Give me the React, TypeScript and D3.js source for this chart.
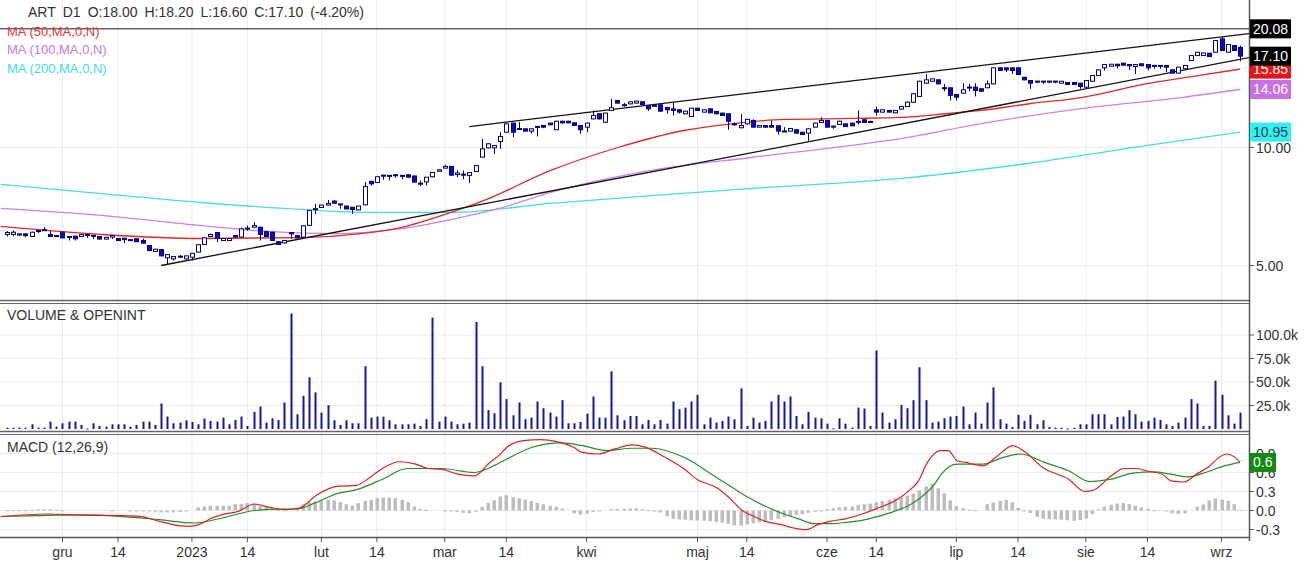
import React from "react";
import * as d3 from "d3";

// daily candles, oldest first: [open, high, low, close]
const candles: number[][] = [
  [6.00, 6.12, 5.93, 6.07], [6.00, 6.14, 5.94, 6.08], [5.98, 6.04, 5.95, 6.02], [6.02, 6.04, 5.90, 5.96],
  [5.93, 6.10, 5.92, 6.08], [6.14, 6.15, 6.05, 6.13], [6.17, 6.26, 6.14, 6.16], [6.00, 6.12, 5.91, 5.93],
  [5.96, 5.97, 5.94, 5.95], [6.08, 6.09, 5.87, 5.88], [5.93, 5.94, 5.79, 5.92], [5.94, 5.95, 5.79, 5.85],
  [5.93, 6.01, 5.90, 6.00], [6.00, 6.01, 5.88, 5.99], [5.97, 5.98, 5.84, 5.96], [5.93, 5.94, 5.82, 5.84],
  [5.84, 5.92, 5.83, 5.90], [5.91, 5.98, 5.84, 5.96], [5.86, 5.88, 5.77, 5.79], [5.87, 5.88, 5.70, 5.82],
  [5.82, 5.83, 5.80, 5.81], [5.85, 5.86, 5.74, 5.75], [5.79, 5.86, 5.69, 5.70], [5.62, 5.63, 5.44, 5.46],
  [5.43, 5.52, 5.42, 5.50], [5.49, 5.50, 5.28, 5.29], [5.23, 5.34, 5.03, 5.33], [5.20, 5.28, 5.15, 5.27],
  [5.27, 5.32, 5.24, 5.28], [5.20, 5.30, 5.18, 5.29], [5.25, 5.38, 5.15, 5.37], [5.41, 5.66, 5.40, 5.65],
  [5.66, 5.90, 5.64, 5.88], [5.93, 6.03, 5.90, 6.00], [6.07, 6.08, 5.73, 5.86], [5.79, 5.87, 5.77, 5.86],
  [5.79, 5.88, 5.78, 5.86], [5.96, 5.98, 5.89, 5.91], [5.91, 6.25, 5.90, 6.20], [6.22, 6.32, 6.13, 6.23],
  [6.26, 6.45, 6.24, 6.32], [6.26, 6.28, 5.79, 6.00], [6.10, 6.12, 5.91, 5.93], [6.08, 6.09, 5.77, 5.79],
  [5.75, 5.76, 5.64, 5.66], [5.71, 5.80, 5.69, 5.79], [6.07, 6.08, 5.85, 6.02], [5.96, 5.97, 5.87, 5.88],
  [5.91, 6.33, 5.89, 6.31], [6.33, 6.93, 6.31, 6.91], [6.97, 7.18, 6.76, 6.98], [7.03, 7.15, 7.01, 7.13],
  [7.13, 7.35, 7.11, 7.20], [7.30, 7.35, 7.19, 7.21], [7.18, 7.19, 6.98, 7.14], [7.09, 7.10, 6.96, 6.97],
  [7.04, 7.05, 6.77, 6.95], [6.93, 7.10, 6.92, 7.09], [7.14, 8.16, 7.12, 7.95], [8.20, 8.22, 7.99, 8.08],
  [8.14, 8.45, 8.12, 8.42], [8.50, 8.52, 8.28, 8.47], [8.49, 8.50, 8.24, 8.47], [8.52, 8.53, 8.37, 8.51],
  [8.49, 8.50, 8.30, 8.48], [8.52, 8.53, 8.38, 8.40], [8.46, 8.47, 8.14, 8.16], [8.11, 8.24, 7.97, 8.10],
  [8.17, 8.41, 7.99, 8.40], [8.42, 8.66, 8.40, 8.64], [8.70, 8.79, 8.68, 8.77], [8.86, 9.04, 8.84, 8.95],
  [8.95, 8.97, 8.48, 8.50], [8.53, 8.74, 8.40, 8.61], [8.55, 8.74, 8.30, 8.54], [8.49, 8.65, 8.11, 8.63],
  [8.69, 9.02, 8.67, 8.99], [9.45, 10.52, 9.43, 9.92], [9.98, 10.25, 9.95, 10.22], [9.98, 10.14, 9.63, 10.12],
  [10.36, 10.94, 9.92, 10.67], [10.94, 11.52, 10.90, 11.49], [11.54, 11.56, 10.63, 10.94], [11.16, 11.62, 11.10, 11.18],
  [11.16, 11.18, 10.99, 11.01], [11.01, 11.18, 10.84, 11.16], [11.32, 11.33, 10.67, 11.30], [11.38, 11.40, 11.20, 11.27],
  [11.54, 11.56, 11.38, 11.43], [11.10, 11.70, 11.08, 11.67], [11.67, 11.69, 11.50, 11.56], [11.67, 11.69, 11.54, 11.56],
  [11.56, 11.58, 11.35, 11.38], [11.38, 11.40, 10.84, 11.10], [11.27, 11.56, 10.94, 11.54], [11.83, 12.43, 11.80, 12.07],
  [12.19, 12.22, 11.80, 11.83], [11.60, 12.26, 11.58, 12.24], [12.43, 13.31, 12.40, 12.63], [13.18, 13.20, 12.95, 12.98],
  [12.85, 13.00, 12.70, 12.86], [12.92, 13.10, 12.90, 13.08], [12.98, 13.15, 12.95, 13.13], [13.08, 13.10, 12.85, 12.87],
  [12.80, 12.82, 12.40, 12.55], [12.81, 12.83, 12.78, 12.80], [12.85, 12.87, 12.35, 12.38], [12.65, 12.67, 12.19, 12.48],
  [12.55, 13.05, 12.07, 12.43], [12.48, 12.50, 12.20, 12.31], [12.19, 12.40, 12.17, 12.38], [12.00, 12.62, 11.98, 12.60],
  [12.60, 12.62, 12.40, 12.43], [12.31, 12.50, 12.28, 12.48], [12.55, 12.57, 12.24, 12.26], [12.36, 12.38, 12.17, 12.19],
  [12.24, 12.26, 12.05, 12.07], [12.19, 12.21, 11.10, 11.67], [11.49, 11.58, 11.38, 11.48], [11.23, 12.19, 11.20, 11.38],
  [11.49, 11.83, 11.45, 11.80], [11.72, 11.80, 11.25, 11.27], [11.27, 11.40, 11.25, 11.38], [11.38, 11.40, 11.25, 11.27],
  [11.38, 11.72, 11.25, 11.27], [11.36, 11.38, 10.79, 11.01], [11.01, 11.27, 10.99, 11.02], [11.01, 11.20, 10.99, 11.18],
  [11.10, 11.12, 10.86, 10.88], [10.94, 10.96, 10.77, 10.79], [10.88, 11.18, 10.32, 11.16], [11.27, 11.56, 11.25, 11.54],
  [11.58, 11.95, 11.56, 11.72], [11.72, 11.75, 11.25, 11.27], [11.34, 11.36, 11.16, 11.33], [11.45, 11.70, 11.43, 11.67],
  [11.49, 11.51, 11.29, 11.31], [11.54, 11.56, 11.34, 11.36], [11.65, 12.43, 11.45, 11.66], [11.77, 11.79, 11.56, 11.58],
  [11.65, 11.72, 11.58, 11.64], [12.48, 12.72, 12.07, 12.31], [12.31, 12.50, 12.28, 12.48], [12.43, 12.45, 12.29, 12.31],
  [12.26, 12.45, 12.24, 12.43], [12.53, 12.75, 12.50, 12.72], [12.72, 13.08, 12.70, 13.05], [13.05, 13.74, 13.02, 13.71],
  [13.50, 14.80, 13.47, 14.76], [14.59, 15.41, 14.55, 14.88], [14.76, 15.00, 14.73, 14.97], [14.88, 14.90, 14.50, 14.53],
  [14.21, 14.53, 13.92, 14.20], [14.20, 14.22, 13.18, 13.58], [13.65, 13.67, 13.18, 13.44], [13.76, 14.59, 13.73, 14.03],
  [14.25, 14.53, 13.92, 14.26], [14.25, 14.59, 13.50, 13.98], [14.12, 14.14, 13.90, 13.92], [14.20, 14.82, 14.18, 14.53],
  [14.53, 16.00, 14.50, 15.97], [15.97, 16.00, 15.70, 15.72], [15.97, 15.99, 15.57, 15.78], [15.97, 15.99, 15.41, 15.72],
  [15.97, 15.99, 15.33, 15.35], [15.11, 15.13, 14.85, 14.88], [14.82, 14.84, 14.12, 14.59], [14.77, 14.78, 14.59, 14.76],
  [14.77, 14.78, 14.53, 14.76], [14.77, 14.78, 14.59, 14.76], [14.77, 14.78, 14.59, 14.76], [14.59, 14.78, 14.57, 14.76],
  [14.65, 14.67, 14.46, 14.48], [14.65, 14.67, 14.46, 14.48], [14.59, 14.61, 14.12, 14.31], [14.25, 14.84, 14.22, 14.82],
  [14.76, 15.28, 14.74, 15.26], [15.26, 15.80, 15.24, 15.78], [15.97, 16.30, 15.72, 16.28], [16.12, 16.33, 16.10, 16.31],
  [16.31, 16.33, 15.90, 16.16], [16.41, 16.43, 16.20, 16.22], [16.28, 16.30, 15.78, 16.16], [16.09, 16.30, 15.41, 16.28],
  [16.35, 16.37, 16.14, 16.16], [16.28, 16.30, 15.72, 15.97], [16.20, 16.22, 15.88, 16.18], [16.20, 16.22, 15.88, 16.18],
  [16.19, 16.21, 15.57, 16.03], [15.78, 15.80, 15.46, 15.48], [15.48, 16.05, 15.46, 16.03], [15.88, 16.21, 15.86, 16.19],
  [16.67, 17.18, 16.65, 17.16], [17.16, 17.52, 17.14, 17.50], [17.16, 17.45, 17.14, 17.43], [17.40, 17.42, 17.04, 17.06],
  [17.50, 18.77, 17.48, 18.75], [18.93, 19.12, 17.66, 17.68], [17.50, 18.33, 17.48, 18.31], [18.20, 18.22, 17.66, 17.68],
  [18.00, 18.20, 16.60, 17.10],
];

// volume, thousands of shares
const volumes: number[] = [
  1.4, 1.4, 1.4, 1.4, 5.0, 1.4, 1.4, 7.9, 2.5, 6.1, 7.9, 7.9, 4.3, 0.5, 6.1, 3.2, 2.5, 5.0, 5.0, 5.0,
  2.5, 4.3, 7.9, 7.9, 4.3, 27.1, 13.2, 6.1, 6.8, 9.3, 7.5, 5.0, 11.1, 8.6, 7.9, 12.1, 5.0, 9.6, 13.2, 3.2,
  18.2, 23.9, 6.8, 11.4, 9.6, 28.2, 122.8, 15.7, 35.3, 55.0, 38.9, 17.5, 25.3, 9.3, 4.3, 9.3, 6.1, 6.1, 66.8, 12.1,
  13.2, 13.2, 9.3, 5.0, 5.0, 5.0, 5.7, 3.2, 10.4, 118.5, 7.9, 13.2, 7.9, 5.0, 5.7, 6.8, 113.9, 66.8, 20.0, 16.8,
  49.6, 31.8, 14.6, 28.2, 10.4, 12.1, 29.3, 22.1, 17.5, 13.2, 30.7, 6.1, 6.1, 7.5, 16.4, 34.6, 12.1, 12.1, 61.4, 14.6,
  9.3, 13.9, 13.9, 5.0, 9.6, 5.0, 9.6, 5.7, 29.3, 21.1, 22.8, 29.3, 36.4, 5.0, 12.1, 6.8, 8.6, 13.2, 10.4, 43.2,
  3.2, 12.1, 6.8, 8.6, 29.3, 36.4, 29.3, 34.6, 13.9, 5.0, 18.2, 12.1, 11.4, 5.7, 0.7, 11.4, 5.7, 1.4, 22.8, 21.8,
  3.2, 83.5, 17.5, 6.8, 10.4, 25.7, 22.1, 30.7, 65.7, 30.7, 6.8, 7.9, 11.4, 13.2, 13.9, 23.9, 5.0, 17.5, 5.7, 28.2,
  44.3, 10.4, 5.7, 2.1, 15.0, 8.6, 15.0, 5.0, 9.3, 2.1, 1.4, 1.4, 0.5, 1.4, 5.0, 5.0, 15.7, 15.7, 15.7, 5.0,
  12.9, 13.2, 20.0, 15.7, 7.9, 8.6, 12.1, 9.6, 5.0, 3.2, 6.8, 12.1, 31.8, 27.1, 3.2, 3.2, 51.4, 36.4, 14.6, 5.7,
  17.5,
];

// moving averages sampled along the chart: [day index, price]
const ma50: number[][] = [
  [-1, 6.29], [15.3, 6.0], [31.5, 5.86], [47.7, 5.89], [57.4, 6.03], [63.9, 6.25], [72, 6.83], [77.4, 7.33],
  [88.2, 8.74], [99.1, 10.0], [109.8, 11.05], [117.9, 11.51], [126, 11.79], [136.9, 11.86], [145, 11.93],
  [152.6, 12.21], [158, 12.43], [166.1, 12.95], [174.2, 13.41], [185, 14.56], [193.2, 15.26], [200, 15.85],
];
const ma100: number[][] = [
  [-1, 6.99], [15.3, 6.71], [31.5, 6.32], [42.3, 6.11], [53, 6.03], [63.9, 6.21], [72, 6.55], [80, 7.0],
  [88.2, 7.68], [104.5, 8.74], [120.7, 9.43], [136.9, 10.12], [145, 10.54], [158, 11.51], [174.2, 12.57],
  [190.4, 13.41], [200, 14.06],
];
const ma200: number[][] = [
  [-1, 8.05], [15.3, 7.63], [31.5, 7.24], [47.7, 6.95], [58.6, 6.83], [72, 6.83], [88.2, 7.2], [104.5, 7.54],
  [120.7, 7.86], [145, 8.34], [168.9, 9.26], [185, 10.12], [200, 10.95],
];

// hand-drawn lines: [day index, price] end points
const supportLine: number[][] = [[25, 5.0], [201.6, 16.97]];
const resistanceLine: number[][] = [[75, 11.31], [201.6, 19.54]];
const levelLine = 20.08;

// MACD (12,26,9) sampled: [day index, value]
const macdLine: number[][] = [
  [-1, -0.095], [6.7, -0.055], [11.9, -0.072], [18, -0.08], [21.5, -0.092], [24.7, -0.171], [27.9, -0.24],
  [29.5, -0.25], [31.1, -0.224], [33, -0.13], [34.9, -0.066], [37.5, -0.013], [40.1, 0.103], [42.6, 0.05],
  [45.2, 0.013], [47.4, 0.035], [50.3, 0.25], [53.5, 0.382], [56.7, 0.398], [58.7, 0.51], [60.9, 0.663],
  [63.6, 0.77], [66.3, 0.733], [68.4, 0.663], [70.4, 0.653], [73.1, 0.573], [75.8, 0.547], [78.4, 0.765],
  [79.8, 0.871], [81.1, 1.0], [83.8, 1.104], [86.5, 1.12], [89.2, 1.088], [91.9, 0.998], [93.3, 0.918],
  [95.9, 0.892], [98.6, 0.972], [101.3, 1.036], [103.5, 1.0], [106.3, 0.866], [109.8, 0.66], [112, 0.487],
  [115.2, 0.355], [117.2, 0.197], [119.1, 0.013], [121.1, -0.092], [123, -0.171], [125.6, -0.224],
  [127.6, -0.276], [129.6, -0.303], [131.5, -0.224], [133.5, -0.171], [136.1, -0.129], [138.7, -0.055],
  [141.3, 0.04], [143.9, 0.145], [146.5, 0.329], [147.8, 0.461], [149.3, 0.759], [151.4, 0.945], [152.7, 0.945],
  [154.1, 0.786], [155.5, 0.759], [158.3, 0.706], [160.4, 0.839], [163.1, 1.025], [165.2, 0.919], [168, 0.68],
  [172.2, 0.494], [174.8, 0.3], [176.3, 0.324], [179.1, 0.547], [181.2, 0.663], [183.2, 0.663], [185.3, 0.616],
  [187.4, 0.573], [188.8, 0.467], [190.9, 0.45], [192.9, 0.573], [195, 0.696], [196.4, 0.823], [197.8, 0.892],
  [199.2, 0.839], [200, 0.759],
];
const signalLine: number[][] = [
  [-1, -0.095], [12.5, -0.069], [18.3, -0.092], [24.7, -0.145], [30.4, -0.197], [34.9, -0.118], [40.1, 0.0],
  [43.9, 0.021], [47.1, 0.025], [50, 0.12], [53.5, 0.266], [56.7, 0.329], [60.9, 0.494], [64.9, 0.663],
  [70.4, 0.663], [75.8, 0.6], [78.4, 0.68], [81.1, 0.813], [85.2, 0.998], [89.9, 1.067], [93.3, 1.024],
  [97.3, 0.945], [101.3, 0.983], [104.6, 0.983], [109.8, 0.84], [115.2, 0.513], [117.8, 0.355], [120.4, 0.197],
  [123, 0.066], [125.6, -0.04], [128.3, -0.129], [130.9, -0.208], [133.5, -0.208], [136.1, -0.187],
  [138.7, -0.155], [141.3, -0.092], [143.9, -0.013], [146.5, 0.092], [149.1, 0.276], [150.4, 0.408],
  [151.6, 0.58], [154.1, 0.733], [158.3, 0.733], [161.6, 0.839], [164.4, 0.892], [168.3, 0.759], [172.2, 0.627],
  [175.6, 0.457], [179.1, 0.494], [182.6, 0.59], [186, 0.61], [188.8, 0.573], [191.6, 0.531], [194.4, 0.6],
  [197.2, 0.696], [200, 0.759],
];
const histogram: number[] = [
  0.005, 0.005, 0.005, 0.008, 0.01, 0.02, 0.02, 0.02, 0.015, 0.005, 0, 0, 0, 0, 0, 0, 0, 0.005, 0, 0,
  -0.005, -0.005, -0.01, -0.015, -0.02, -0.03, -0.03, -0.03, -0.025, -0.015, 0, 0.047, 0.063, 0.074, 0.074, 0.074, 0.074, 0.1, 0.105, 0.116,
  0.105, 0.074, 0.053, 0.026, 0.01, 0.005, 0, 0.053, 0.1, 0.132, 0.142, 0.158, 0.168, 0.158, 0.132, 0.1, 0.074, 0.116, 0.153, 0.168,
  0.195, 0.205, 0.205, 0.195, 0.168, 0.132, 0.063, 0.026, 0.01, 0, 0, -0.005, -0.01, -0.02, -0.035, -0.042, -0.02, 0.06, 0.12, 0.16,
  0.22, 0.24, 0.21, 0.19, 0.17, 0.15, 0.12, 0.1, 0.075, 0.058, 0.03, 0, -0.045, -0.065, -0.05, -0.025, -0.01, 0, 0.02, 0.026,
  0.026, 0.03, 0.037, 0.02, 0.005, -0.016, -0.03, -0.09, -0.13, -0.14, -0.147, -0.155, -0.158, -0.16, -0.17, -0.18, -0.19, -0.21, -0.235, -0.24,
  -0.22, -0.205, -0.19, -0.175, -0.15, -0.13, -0.105, -0.09, -0.07, -0.055, -0.035, -0.02, -0.005, 0.02, 0.035, 0.05, 0.058, 0.063, 0.09, 0.1,
  0.11, 0.13, 0.15, 0.17, 0.19, 0.21, 0.235, 0.27, 0.32, 0.38, 0.42, 0.35, 0.27, 0.16, 0.07, 0.035, 0.016, 0.005, 0, 0.1,
  0.125, 0.15, 0.168, 0.13, 0.04, -0.01, -0.04, -0.1, -0.13, -0.137, -0.14, -0.147, -0.155, -0.163, -0.15, -0.125, -0.06, 0.016, 0.06, 0.09,
  0.11, 0.116, 0.1, 0.075, 0.05, 0.026, 0.005, 0, -0.016, -0.045, -0.053, -0.045, 0, 0.06, 0.095, 0.16, 0.19, 0.17, 0.15, 0.1,
  0.01,
];
const macdLabel = "0.6";

// axis ticks
const xTickIdx = [9, 18, 30, 39, 51, 60, 71, 81, 94, 112, 120, 133, 141, 154, 164, 175, 185, 197];
const xTickLabels = ["gru", "14", "2023", "14", "lut", "14", "mar", "14", "kwi", "maj", "14", "cze", "14", "lip", "14", "sie", "14", "wrz"];
const priceTicks = [5, 10];
const volumeTicks = [25, 50, 75, 100];
const macdTicks = [-0.3, 0, 0.3, 0.6, 0.9];
const headerTokens = ["ART", "D1"];
const changePct = -4.2;

const W = 1309;
const H = 567;
const R = 1249; // right edge of plots
const FONT = "'Liberation Sans', Arial, sans-serif";

const x = d3.scaleLinear().domain([0, 200]).range([7, 7 + 200 * 6.165]);
const yP = d3.scaleLog().domain([5, 10]).range([265.5, 147.5]);
const yV = d3.scaleLinear().domain([0, 100]).range([429, 335]);
const yM = d3.scaleLinear().domain([0, 0.3]).range([510.5, 491.5]);

const priceLine = d3.line<number[]>().x((d) => x(d[0])).y((d) => yP(d[1])).curve(d3.curveMonotoneX);
const straight = d3.line<number[]>().x((d) => x(d[0])).y((d) => yP(d[1]));
const macdPath = d3.line<number[]>().x((d) => x(d[0])).y((d) => yM(d[1])).curve(d3.curveMonotoneX);

const App = () => {
  const last = candles[candles.length - 1];
  const fmt = (v: number) => v.toFixed(2);
  const header = [
    ...headerTokens,
    `O:${fmt(last[0])}`,
    `H:${fmt(last[1])}`,
    `L:${fmt(last[2])}`,
    `C:${fmt(last[3])}`,
    `(${fmt(changePct)}%)`,
  ];

  // value boxes on the right axis, drawn in this order
  const boxes = [
    { v: ma200[ma200.length - 1][1], bg: "#2ef2f2", fg: "#2b3b4b" },
    { v: ma100[ma100.length - 1][1], bg: "#c672e6", fg: "#fff" },
    { v: ma50[ma50.length - 1][1], bg: "#ee1111", fg: "#fff" },
    { v: last[3], bg: "#000", fg: "#fff" },
    { v: levelLine, bg: "#000", fg: "#fff" },
  ];

  const macdEnd = signalLine[signalLine.length - 1][1];

  return (
    <div style={{ position: "absolute", left: 0, top: 0, background: "#fff" }}>
      <svg width={W} height={H} style={{ display: "block", fontFamily: FONT }}>
        <defs>
          <clipPath id="mainClip"><rect x={0} y={0} width={R} height={300} /></clipPath>
          <clipPath id="macdClip"><rect x={0} y={436} width={R} height={101} /></clipPath>
        </defs>
        <rect width={W} height={H} fill="#fff" />

        {/* grid */}
        {xTickIdx.map((t, k) => (
          <line key={"vg" + k} x1={x(t)} x2={x(t)} y1={0} y2={537} stroke="#ececec" />
        ))}
        {priceTicks.map((t) => (
          <line key={"pg" + t} x1={0} x2={R} y1={yP(t)} y2={yP(t)} stroke="#ececec" />
        ))}
        {volumeTicks.map((t) => (
          <line key={"vgr" + t} x1={0} x2={R} y1={yV(t)} y2={yV(t)} stroke="#ececec" />
        ))}
        {macdTicks.map((t) => (
          <line key={"mg" + t} x1={0} x2={R} y1={yM(t)} y2={yM(t)} stroke="#ececec" />
        ))}

        {/* main price panel */}
        <g clipPath="url(#mainClip)">
          <path d={priceLine(ma200) || ""} fill="none" stroke="#45dde4" strokeWidth={1.3} />
          <path d={priceLine(ma100) || ""} fill="none" stroke="#cc80ea" strokeWidth={1.3} />
          <path d={priceLine(ma50) || ""} fill="none" stroke="#e02a2a" strokeWidth={1.3} />
          <path d={straight(supportLine) || ""} fill="none" stroke="#111" strokeWidth={1.3} />
          <path d={straight(resistanceLine) || ""} fill="none" stroke="#111" strokeWidth={1.3} />
          {candles.map(([o, h, l, c], i) => {
            const cx = Math.round(x(i)) + 0.5;
            const top = yP(Math.max(o, c));
            const bot = yP(Math.min(o, c));
            return (
              <g key={i}>
                <line x1={cx} x2={cx} y1={yP(h)} y2={yP(l)} stroke="#00007a" />
                <rect
                  x={cx - 2}
                  y={top}
                  width={4}
                  height={Math.max(1, bot - top)}
                  fill={c >= o ? "#fff" : "#0a0ac8"}
                  stroke="#00007a"
                />
              </g>
            );
          })}
        </g>
        <line x1={0} x2={R} y1={yP(levelLine)} y2={yP(levelLine)} stroke="#666" strokeWidth={1.5} />

        {/* volume */}
        {volumes.map((v, i) => {
          const cx = Math.round(x(i));
          return (
            <rect key={"v" + i} x={cx - 0.5} y={yV(v)} width={2} height={Math.max(1, yV(0) - yV(v))} fill="#1717a0" />
          );
        })}

        {/* MACD */}
        <g clipPath="url(#macdClip)">
          {histogram.map((v, i) => {
            if (v === 0) return null;
            const cx = Math.round(x(i));
            const y0 = yM(0);
            const y1 = yM(v);
            return (
              <rect
                key={"h" + i}
                x={cx - 1.5}
                y={Math.min(y0, y1)}
                width={3.5}
                height={Math.max(1, Math.abs(y1 - y0))}
                fill="#bdbdbd"
              />
            );
          })}
          <path d={macdPath(signalLine) || ""} fill="none" stroke="#22902a" strokeWidth={1.2} />
          <path d={macdPath(macdLine) || ""} fill="none" stroke="#dd2222" strokeWidth={1.2} />
        </g>

        {/* panel borders */}
        <line x1={0} x2={R} y1={300.5} y2={300.5} stroke="#666" strokeWidth={1.5} />
        <line x1={0} x2={R} y1={303.5} y2={303.5} stroke="#666" />
        <line x1={0} x2={R} y1={431.5} y2={431.5} stroke="#666" strokeWidth={1.5} />
        <line x1={0} x2={R} y1={434.5} y2={434.5} stroke="#666" />
        <line x1={0} x2={R} y1={537.5} y2={537.5} stroke="#555" strokeWidth={1.5} />
        <line x1={R + 0.5} x2={R + 0.5} y1={0} y2={541} stroke="#555" strokeWidth={1.5} />

        {/* x axis */}
        {xTickIdx.map((t, k) => (
          <g key={"xt" + k}>
            <line x1={x(t)} x2={x(t)} y1={537} y2={542} stroke="#555" />
            <text x={x(t)} y={557} fontSize={14} fill="#333" textAnchor="middle">{xTickLabels[k]}</text>
          </g>
        ))}

        {/* right axis labels */}
        {priceTicks.map((t) => (
          <g key={"pt" + t}>
            <line x1={R} x2={R + 5} y1={yP(t)} y2={yP(t)} stroke="#555" />
            <text x={R + 7} y={yP(t) + 5} fontSize={14} fill="#333">{fmt(t)}</text>
          </g>
        ))}
        {volumeTicks.map((t) => (
          <g key={"vt" + t}>
            <line x1={R} x2={R + 5} y1={yV(t)} y2={yV(t)} stroke="#555" />
            <text x={R + 7} y={yV(t) + 5} fontSize={14} fill="#333">{`${t.toFixed(1)}k`}</text>
          </g>
        ))}
        {macdTicks.map((t) => (
          <g key={"mt" + t}>
            <line x1={R} x2={R + 5} y1={yM(t)} y2={yM(t)} stroke="#555" />
            <text x={R + 7} y={yM(t) + 5} fontSize={14} fill="#333">{t.toFixed(1)}</text>
          </g>
        ))}
        {boxes.map((b, k) => (
          <g key={"b" + k}>
            <rect x={R + 1} y={yP(b.v) - 9.5} width={41} height={19} fill={b.bg} />
            <text x={R + 4} y={yP(b.v) + 5} fontSize={14} fill={b.fg}>{fmt(b.v)}</text>
          </g>
        ))}
        <rect x={R + 1} y={yM(macdEnd) - 9.5} width={26} height={19} fill="#108a10" />
        <text x={R + 4} y={yM(macdEnd) + 5} fontSize={14} fill="#fff">{macdLabel}</text>

        {/* legends */}
        <text x={28} y={17} fontSize={14} fill="#333">
          {header.map((s, k) => (
            <tspan key={k} dx={k ? 7 : 0}>{s}</tspan>
          ))}
        </text>
        <text x={7} y={36} fontSize={13} fill="#e03a3a">MA (50,MA,0,N)</text>
        <text x={7} y={54} fontSize={13} fill="#c87ae0">MA (100,MA,0,N)</text>
        <text x={7} y={72.5} fontSize={13} fill="#3fdde6">MA (200,MA,0,N)</text>
        <text x={7} y={320} fontSize={14} fill="#333">VOLUME &amp; OPENINT</text>
        <text x={7} y={452} fontSize={14} fill="#333">MACD (12,26,9)</text>
      </svg>
    </div>
  );
};

export default App;
